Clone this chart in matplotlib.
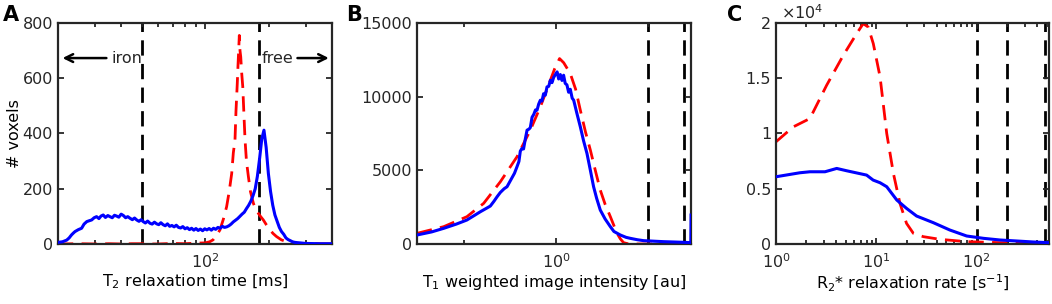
import numpy as np
import matplotlib
matplotlib.use("Agg")
import matplotlib.pyplot as plt
from matplotlib.ticker import FixedLocator, NullFormatter, FuncFormatter

plt.rcParams['font.family'] = 'DejaVu Sans'
plt.rcParams['mathtext.fontset'] = 'dejavusans'
plt.rcParams['font.size'] = 11.5

# ---- panel A: T2 histogram ----
t2_blue_x = [20.1, 21.0, 22.0, 22.6, 23.2, 23.7, 24.1, 25.0, 25.9, 26.6, 27.4, 28.1, 28.9,
             29.7, 30.5, 31.3, 32.0, 32.8, 33.6, 34.5, 35.3, 36.2, 37.1, 38.0, 38.9, 39.9,
             40.9, 41.9, 42.9, 44.0, 45.1, 46.2, 47.3, 48.5, 49.6, 50.8, 52.0, 53.3, 54.7,
             56.0, 57.4, 58.8, 60.2, 61.6, 63.1, 64.6, 66.2, 67.8, 69.5, 71.2, 72.9, 74.7,
             76.5, 78.3, 80.2, 82.2, 84.2, 86.2, 88.3, 90.4, 92.6, 94.9, 97.2, 99.5, 101.9,
             104.4, 107.0, 109.5, 112.2, 114.9, 117.7, 120.6, 123.5, 126.5, 129.6, 132.7,
             136.0, 139.3, 142.6, 146.1, 149.6, 153.3, 157.0, 160.8, 164.7, 168.7, 172.8,
             176.9, 181.3, 185.6, 190.1, 194.7, 199.5, 204.3, 209.3, 214.3, 219.6, 224.9,
             230.3, 236.0, 241.7, 247.5, 253.6, 259.7, 266.0, 272.5, 282, 300, 350, 398]
t2_blue_y = [6, 8, 14, 22, 33, 40, 45, 52, 57, 72, 81, 84, 87,
             95, 99, 92, 101, 105, 96, 103, 99, 95, 104, 101, 97, 108,
             103, 95, 99, 93, 88, 94, 87, 82, 88, 81, 76, 83, 75,
             72, 79, 73, 70, 77, 70, 66, 73, 64, 67, 62, 68, 60,
             58, 63, 55, 59, 52, 57, 50, 56, 49, 54, 48, 55, 51,
             56, 50, 57, 53, 60, 57, 64, 60, 62, 66, 72,
             80, 86, 92, 100, 108, 115, 128, 140, 155, 175, 200,
             245, 310, 380, 412, 350, 255, 190, 140, 105, 82, 60,
             45, 35, 22, 16, 12, 8, 6, 5, 4, 2, 1, 1]

t2_red_x = [20, 25, 30, 35, 40, 45, 50, 55, 60, 70, 80, 90, 100, 105, 109, 113, 117.5,
            122, 126.4, 130, 133.6, 136, 138.5, 140, 142, 143.2, 144.2, 145.2, 146.3,
            147.5, 149, 150.8, 152.7, 154.6, 157, 160.4, 164, 169.4, 174, 178.8, 183,
            188.8, 195, 203, 210, 218, 230, 244, 260, 282, 320, 398]
t2_red_y = [0, 1, 0, 1, 0, 1, 1, 0, 0, 2, 1, 3, 4, 8, 15, 30, 51,
            90, 135, 190, 255, 330, 376, 480, 581, 650, 701, 755, 700,
            677, 620, 569, 470, 376, 300, 243, 190, 147, 125, 111, 100,
            87, 70, 51, 38, 27, 15, 8, 4, 2, 1, 0]
t2_cuts = [50, 180]

# ---- panel B: T1 weighted intensity histogram ----
t1_blue_x = [0.349, 0.39, 0.427, 0.47, 0.509, 0.54, 0.564, 0.59, 0.608, 0.625, 0.640, 0.656,
             0.675, 0.690, 0.71, 0.730, 0.744, 0.755, 0.763, 0.772, 0.782, 0.792, 0.803,
             0.815, 0.823, 0.834, 0.845, 0.856, 0.866, 0.877, 0.888, 0.899, 0.910, 0.922,
             0.934, 0.946, 0.958, 0.970, 0.982, 0.995, 1.008, 1.020, 1.033, 1.046, 1.059,
             1.072, 1.086, 1.10, 1.114, 1.13, 1.143, 1.17, 1.202, 1.232, 1.264, 1.297,
             1.329, 1.36, 1.398, 1.45, 1.509, 1.55, 1.627, 1.70, 1.755, 1.85, 1.941, 2.10,
             2.259, 2.45, 2.629, 2.775, 2.78]
t1_blue_y = [610, 820, 1062, 1350, 1626, 1950, 2191, 2420, 2575, 2900, 3208, 3500,
             3750, 3886, 4350, 4800, 5241, 5600, 6300, 6480, 6450, 7100, 7726,
             7800, 7900, 8600, 8800, 9100, 9081, 9500, 9759, 9700, 10200, 10100,
             10663, 10700, 11115, 10950, 11300, 11500, 11680, 11200, 11500, 11100, 11454,
             10900, 10800, 10300, 10500, 9900, 9759, 8900, 7952, 7000, 6145, 5000,
             3886, 3100, 2304, 1700, 1175, 850, 610, 450, 384, 290, 226, 190,
             158, 135, 113, 90, 1965]
t1_red_x = [0.349, 0.427, 0.509, 0.578, 0.656, 0.744, 0.823, 0.888, 0.958, 0.99, 1.027,
            1.06, 1.114, 1.16, 1.202, 1.25, 1.297, 1.35, 1.398, 1.45, 1.509, 1.55, 1.588,
            1.627, 1.668, 1.72, 1.799, 1.9, 2.0, 2.2, 2.4, 2.6, 2.78]
t1_red_y = [723, 1175, 1852, 2756, 4224, 5918, 7726, 9307, 11115, 11900, 12584,
            12300, 11567, 10500, 9081, 7600, 6370, 4900, 3660, 2700, 1852, 1250, 723,
            350, 90, 20, 0, 0, 0, 0, 0, 0, 0]
t1_cuts = [2.0, 2.63]

# ---- panel C: R2* histogram ----
r2_red_x = [1.0, 1.49, 2.18, 3.2, 4.69, 6.37, 7.4, 8.3, 9.33, 10.9, 12.7, 14.8, 17.2,
            20.0, 23.4, 29.4, 43, 79.5, 170, 364, 525]
r2_red_y = [9247, 10602, 11355, 14367, 17078, 19036, 19940, 19639, 18133, 15120, 10000,
            6385, 3675, 1867, 964, 663, 422, 211, 120, 60, 30]
r2_blue_x = [1.0, 1.73, 2.18, 3.08, 4.03, 5.07, 8.0, 9.3, 10.9, 12.7, 16.0, 20.0, 25.2,
             37, 54, 79.5, 117, 171, 251, 367, 525]
r2_blue_y = [6084, 6445, 6536, 6536, 6837, 6626, 6235, 5783, 5542, 5181, 3976, 3223, 2530,
             1928, 1265, 723, 512, 361, 271, 181, 120]
r2_cuts = [100, 200, 480]

edge = '#262626'
fig = plt.figure(figsize=(10.52, 3.04), dpi=100)
axA = fig.add_axes([0.0551, 0.1974, 0.2605, 0.727])
axB = fig.add_axes([0.3964, 0.1974, 0.2605, 0.727])
axC = fig.add_axes([0.7376, 0.1974, 0.2595, 0.727])

def style(ax):
    ax.set_xscale('log')
    for s in ax.spines.values():
        s.set_linewidth(1.6)
        s.set_color(edge)
    ax.tick_params(which='both', direction='in', top=True, right=True,
                   colors=edge, labelcolor=edge, width=1.3)
    ax.tick_params(which='major', length=4)
    ax.tick_params(which='minor', length=3)
    ax.tick_params(axis='x', which='major', pad=6)
    ax.xaxis.set_minor_formatter(NullFormatter())

dash = (5.5, 3.0)
for ax in (axA, axB, axC):
    style(ax)

# A
for c in t2_cuts:
    axA.axvline(c, color='k', lw=2.0, dashes=dash, zorder=1)
axA.plot(t2_red_x, t2_red_y, color='r', lw=2.0, dashes=dash, zorder=2)
axA.plot(t2_blue_x, t2_blue_y, color='b', lw=2.2, zorder=3)
axA.set_xlim(20, 400)
axA.set_ylim(0, 800)
axA.set_yticks([0, 200, 400, 600, 800])
axA.xaxis.set_major_locator(FixedLocator([100]))
axA.xaxis.set_major_formatter(FuncFormatter(lambda v, p: r'$10^{2}$'))
axA.set_xlabel(r'T$_2$ relaxation time [ms]')
axA.set_ylabel('# voxels')
axA.xaxis.set_label_coords(0.5, -0.13)
axA.yaxis.set_label_coords(-0.13, 0.5)
axA.annotate('', xy=(20.4, 673), xytext=(35, 673),
             arrowprops=dict(arrowstyle='->', lw=1.8, color='k', mutation_scale=14))
axA.text(36, 673, 'iron', va='center', ha='left', color=edge)
axA.text(186, 673, 'free', va='center', ha='left', color=edge)
axA.annotate('', xy=(398, 673), xytext=(266, 673),
             arrowprops=dict(arrowstyle='->', lw=1.8, color='k', mutation_scale=14))

# B
for c in t1_cuts:
    axB.axvline(c, color='k', lw=2.0, dashes=dash, zorder=1)
axB.plot(t1_red_x, t1_red_y, color='r', lw=2.0, dashes=dash, zorder=2)
axB.plot(t1_blue_x, t1_blue_y, color='b', lw=2.2, zorder=3)
axB.set_xlim(0.349, 2.78)
axB.set_ylim(0, 15000)
axB.set_yticks([0, 5000, 10000, 15000])
axB.xaxis.set_major_locator(FixedLocator([1]))
axB.xaxis.set_major_formatter(FuncFormatter(lambda v, p: r'$10^{0}$'))
axB.xaxis.set_minor_locator(FixedLocator([0.5, 2]))
axB.set_xlabel(r'T$_1$ weighted image intensity [au]')
axB.xaxis.set_label_coords(0.5, -0.13)

# C
for c in r2_cuts:
    axC.axvline(c, color='k', lw=2.0, dashes=dash, zorder=1)
axC.plot(r2_red_x, r2_red_y, color='r', lw=2.0, dashes=dash, zorder=2)
axC.plot(r2_blue_x, r2_blue_y, color='b', lw=2.2, zorder=3)
axC.set_xlim(1, 525)
axC.set_ylim(0, 20000)
axC.set_yticks([0, 5000, 10000, 15000, 20000])
axC.yaxis.set_major_formatter(FuncFormatter(lambda v, p: '%g' % (v / 1e4)))
axC.xaxis.set_major_locator(FixedLocator([1, 10, 100]))
axC.xaxis.set_major_formatter(FuncFormatter(lambda v, p: r'$10^{%d}$' % round(np.log10(v))))
axC.set_xlabel(r'R$_2$* relaxation rate [s$^{-1}$]')
axC.xaxis.set_label_coords(0.5, -0.13)
axC.text(0.02, 1.005, r'$\times10^{4}$', transform=axC.transAxes, ha='left', va='bottom',
         color=edge)

fig.text(0.003, 0.985, 'A', weight='bold', fontsize=15, va='top', ha='left')
fig.text(0.329, 0.985, 'B', weight='bold', fontsize=15, va='top', ha='left')
fig.text(0.691, 0.985, 'C', weight='bold', fontsize=15, va='top', ha='left')

fig.savefig('out.png', dpi=100)
